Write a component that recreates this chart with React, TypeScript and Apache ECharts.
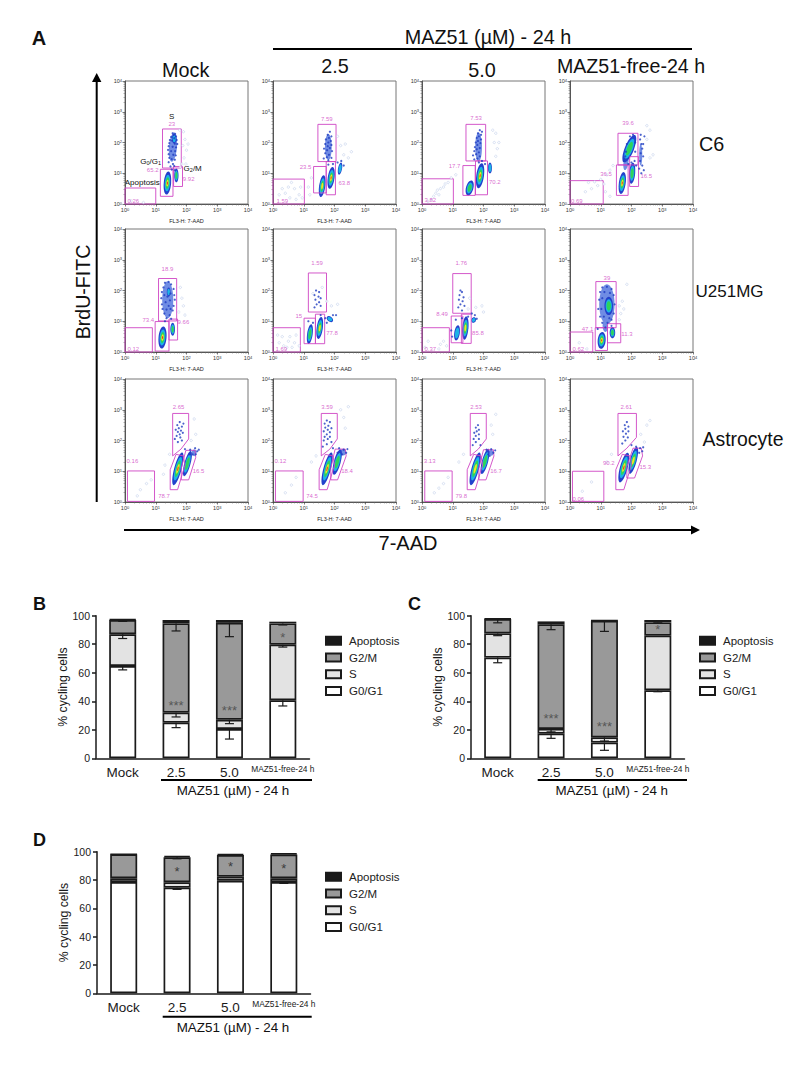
import React, { useEffect, useRef } from "react";
import * as echarts from "echarts";

// ---------- Panel A: all flow-cytometry readings are log10 intensities [x, y] ----------
// gates: 4 numbers = rectangle x0,y0,x1,y1, longer = polygon
const c6MockGates = [[0, 0, 1, 0.52], [1.15, 0.25, 1.56, 1.13], [1.22, 1.17, 1.83, 2.44], [1.58, 0.57, 1.87, 1.22]];
const c6MockLabels = [[0.27, 0.1, "0.26"], [0.9, 1.09, "65.2"], [1.52, 2.6, "23"], [2.07, 0.82, "9.92"]];
const c6MockBlobs = [[1.56, 1.85, 0.26, 0.95, 5, 1], [1.38, 0.68, 0.24, 0.75, 5, 5], [1.67, 0.93, 0.14, 0.45, 0, 3], [1.6, 2.12, 0.15, 0.32, 0, 2]];
const c6MockDots = [[1.55, 2.3], [1.63, 2.28], [1.58, 2.24], [1.5, 2.18], [1.66, 2.2], [1.6, 2.14], [1.46, 2.08], [1.53, 2.06], [1.68, 2.08], [1.44, 1.98], [1.62, 1.96], [1.7, 1.95], [1.42, 1.88], [1.55, 1.86], [1.66, 1.84], [1.4, 1.76], [1.5, 1.72], [1.63, 1.72], [1.42, 1.62], [1.57, 1.6], [1.65, 1.58], [1.44, 1.5], [1.52, 1.46], [1.62, 1.44], [1.42, 1.36], [1.56, 1.3], [1.48, 1.22], [1.6, 1.24], [1.52, 1.12], [1.62, 1.1]];
const c6MockFaint = [[1.9, 2.35], [1.95, 2.1], [1.88, 1.9], [2, 1.75], [1.92, 1.5], [1.85, 1.3], [1.78, 2.4], [1.98, 1.3], [2.05, 1.95], [1.8, 1.2], [0.2, 0.1], [0.6, 0.05]];

const c6LowGates = [[0, 0, 1.02, 0.81], [1.32, 0.36, 1.73, 1.22], [1.46, 1.38, 2.05, 2.59], [1.73, 0.3, 2.03, 1.38]];
const c6LowLabels = [[0.3, 0.09, "1.59"], [1.06, 1.19, "23.5"], [1.75, 2.76, "7.59"], [2.32, 0.68, "63.8"]];
const c6LowBlobs = [[1.6, 0.58, 0.2, 0.72, 8, 4], [1.89, 0.85, 0.22, 0.72, 8, 5], [2.18, 1.15, 0.13, 0.4, 10, 2], [1.8, 1.85, 0.22, 0.85, 0, 1]];
const c6LowDots = [[1.85, 2.35], [1.78, 2.25], [1.9, 2.2], [1.82, 2.15], [1.72, 2.1], [1.88, 2.05], [1.8, 2.0], [1.7, 1.95], [1.9, 1.92], [1.78, 1.88], [1.85, 1.82], [1.66, 1.8], [1.76, 1.75], [1.92, 1.72], [1.7, 1.65], [1.82, 1.6], [1.75, 1.52], [1.9, 1.5], [1.65, 1.48], [1.8, 1.42], [1.95, 1.3], [1.8, 1.28], [2.1, 1.35], [2.22, 1.4], [2.3, 1.25]];
const c6LowFaint = [[0.2, 0.3], [0.4, 0.35], [0.5, 0.55], [0.6, 0.7], [0.7, 0.5], [0.85, 0.3], [0.9, 0.55], [0.3, 0.5], [0.55, 0.2], [0.75, 0.15], [0.95, 0.2], [2.45, 1.5], [2.55, 1.7], [2.3, 1.6], [2.1, 2.2], [2.2, 1.9], [2.35, 1.95], [1.25, 0.85], [1.15, 0.55], [1.2, 0.3]];

const c6HighGates = [[0, 0, 1.02, 0.82], [1.33, 0.28, 1.73, 1.25], [1.43, 1.4, 2.07, 2.59], [1.74, 0.3, 2.13, 1.4]];
const c6HighLabels = [[0.27, 0.12, "3.82"], [1.06, 1.22, "17.7"], [1.76, 2.8, "7.53"], [2.37, 0.71, "70.2"]];
const c6HighBlobs = [[1.55, 0.52, 0.24, 0.5, 15, 3], [1.89, 0.92, 0.25, 0.82, 8, 5], [2.21, 1.17, 0.13, 0.36, 0, 2], [1.84, 1.85, 0.22, 0.95, 0, 1]];
const c6HighDots = [[1.88, 2.4], [1.95, 2.35], [1.82, 2.3], [1.92, 2.25], [1.85, 2.2], [1.78, 2.15], [1.92, 2.1], [1.82, 2.05], [1.75, 2], [1.9, 1.98], [1.8, 1.92], [1.72, 1.85], [1.88, 1.82], [1.78, 1.78], [1.7, 1.72], [1.85, 1.68], [1.76, 1.62], [1.66, 1.58], [1.88, 1.55], [1.8, 1.48], [1.7, 1.45], [1.95, 1.4], [1.85, 1.35], [2.05, 1.3]];
const c6HighFaint = [[0.3, 0.15], [0.38, 0.25], [0.45, 0.35], [0.5, 0.45], [0.6, 0.5], [0.7, 0.55], [0.75, 0.65], [0.55, 0.3], [0.2, 0.08], [0.85, 0.7], [0.95, 0.85], [1.1, 0.95], [2.4, 1.55], [2.45, 1.8], [2.5, 2.0], [2.4, 2.3], [2.3, 2.4], [2.35, 2.0]];

const c6FreeGates = [[0, 0, 1.08, 0.76], [1.51, 0.28, 1.89, 1.27], [1.56, 1.27, 2.21, 2.3], [1.94, 0.57, 2.23, 1.54]];
const c6FreeLabels = [[0.22, 0.11, "0.69"], [1.17, 0.97, "36.5"], [1.89, 2.62, "39.6"], [2.48, 0.92, "16.5"]];
const c6FreeBlobs = [[1.82, 1.35, 0.16, 0.5, 8, 1], [2.3, 1.6, 0.1, 0.7, 0, 1], [1.7, 0.68, 0.22, 0.72, 8, 5], [2.02, 1.0, 0.2, 0.68, 5, 3], [1.93, 1.8, 0.3, 0.95, 22, 3]];
const c6FreeDots = [[1.75, 1.4], [1.8, 1.55], [2.1, 1.4], [2.12, 1.7], [1.82, 1.7], [2.12, 2], [1.95, 2.2], [2.05, 2.25], [1.85, 1.95], [2.15, 1.25], [2.0, 1.35], [1.9, 1.3], [2.28, 2.1], [2.32, 1.95], [2.35, 1.8], [2.3, 1.65], [2.38, 1.55], [2.28, 1.4], [2.35, 1.25], [2.4, 1.1], [2.32, 1.0], [2.3, 2.25], [2.38, 1.95], [2.25, 1.15], [2.42, 2.2]];
const c6FreeFaint = [[0.5, 0.4], [0.7, 0.5], [0.9, 0.6], [0.6, 0.7], [0.8, 0.72], [1, 0.8], [1.2, 0.95], [1.3, 1.1], [1.4, 1.25], [1.15, 0.4], [1.3, 0.25], [1.1, 0.65], [2.6, 1.5], [2.7, 1.6], [2.5, 2.1], [2.6, 2.4], [2.5, 2.55]];

const uMockGates = [[0, 0, 0.89, 0.79], [0.98, 0.03, 1.43, 0.99], [1.09, 1.01, 1.68, 2.39], [1.43, 0.39, 1.71, 1.07]];
const uMockLabels = [[0.27, 0.11, "0.12"], [0.76, 1.03, "73.4"], [1.38, 2.7, "18.9"], [1.9, 0.99, "9.66"]];
const uMockBlobs = [[1.39, 1.7, 0.36, 1.2, 0, 1], [1.22, 0.47, 0.26, 0.72, 5, 5], [1.55, 0.74, 0.15, 0.42, 0, 3], [1.42, 1.95, 0.12, 0.3, 0, 2]];
const uMockDots = [[1.3, 2.25], [1.42, 2.28], [1.5, 2.2], [1.25, 2.1], [1.58, 2.05], [1.2, 1.95], [1.6, 1.85], [1.18, 1.75], [1.62, 1.7], [1.2, 1.55], [1.58, 1.5], [1.22, 1.4], [1.55, 1.35], [1.28, 1.25], [1.45, 1.2], [1.35, 1.1], [1.5, 1.08], [1.3, 1.0], [1.38, 1.8], [1.46, 1.68], [1.32, 1.62], [1.42, 1.5], [1.35, 1.38], [1.48, 1.4], [1.28, 1.85], [1.48, 1.9]];
const uMockFaint = [[1.8, 2.1], [1.85, 1.75], [1.9, 1.5], [1.75, 1.3], [1.95, 1.2]];

const uLowGates = [[0, 0, 0.89, 0.79], [1.01, 0.27, 1.38, 1.1], [1.15, 1.3, 1.74, 2.57], [1.38, 0.27, 1.68, 1.23]];
const uLowLabels = [[0.27, 0.11, "1.69"], [0.84, 1.17, "15"], [1.43, 2.88, "1.59"], [1.92, 0.63, "77.8"]];
const uLowBlobs = [[1.2, 0.58, 0.18, 0.65, 8, 3], [1.52, 0.78, 0.2, 0.72, 8, 4], [1.85, 1.07, 0.24, 0.16, 40, 2]];
const uLowDots = [[1.4, 2.0], [1.5, 1.95], [1.35, 1.85], [1.48, 1.8], [1.55, 1.75], [1.38, 1.7], [1.5, 1.62], [1.42, 1.55], [1.55, 1.5], [1.35, 1.45], [1.7, 1.1], [1.95, 1.2], [2.05, 1.2], [1.75, 0.95], [1.3, 0.95], [1.15, 1.0], [1.55, 1.2]];
const uLowFaint = [[0.2, 0.3], [0.35, 0.2], [0.5, 0.35], [0.3, 0.5], [0.55, 0.5], [0.7, 0.3], [0.75, 0.55], [0.15, 0.55], [0.45, 0.15], [0.62, 0.15], [0.85, 0.2], [1.9, 1.5], [2.1, 1.55], [1.75, 1.65], [1.3, 1.9], [1.6, 2.1]];

const uHighGates = [[0, 0, 0.89, 0.79], [0.95, 0.3, 1.33, 1.17], [1.0, 1.26, 1.6, 2.55], [1.28, 0.28, 1.6, 1.23]];
const uHighLabels = [[0.27, 0.11, "0.37"], [0.65, 1.23, "8.49"], [1.28, 2.88, "1.76"], [1.82, 0.63, "85.8"]];
const uHighBlobs = [[1.14, 0.62, 0.18, 0.5, 8, 2], [1.41, 0.78, 0.2, 0.76, 5, 4], [1.68, 1.04, 0.15, 0.18, 30, 2]];
const uHighDots = [[1.25, 2.0], [1.3, 1.95], [1.22, 1.85], [1.35, 1.78], [1.2, 1.7], [1.32, 1.65], [1.25, 1.55], [1.38, 1.5], [1.18, 1.45], [1.3, 1.35], [1.1, 1.05], [1.3, 1.1], [1.5, 1.15], [1.72, 1.2], [1.78, 1.08], [1.62, 1.25], [0.95, 0.7], [0.98, 0.5]];
const uHighFaint = [[0.1, 0.15], [0.2, 0.35], [0.55, 0.1], [0.6, 0.25], [0.8, 0.2], [0.7, 0.35], [1.75, 1.45], [1.95, 1.5], [2.0, 1.3], [1.55, 1.75], [1.5, 1.4]];

const uFreeGates = [[0, 0, 0.74, 0.65], [0.82, 0.05, 1.22, 0.79], [0.84, 0.79, 1.5, 2.29], [1.22, 0.3, 1.65, 0.92]];
const uFreeLabels = [[0.27, 0.11, "0.62"], [0.57, 0.76, "47.1"], [1.2, 2.42, "39"], [1.85, 0.6, "11.3"]];
const uFreeBlobs = [[1.2, 1.55, 0.5, 1.3, 0, 1], [1.15, 0.85, 0.18, 0.4, 0, 1], [1.03, 0.38, 0.26, 0.55, 5, 5], [1.38, 0.63, 0.18, 0.36, 0, 3], [1.26, 1.5, 0.28, 0.6, 0, 3]];
const uFreeDots = [[1.05, 2.1], [1.2, 2.12], [1.35, 2.05], [0.98, 1.95], [1.42, 1.85], [0.95, 1.7], [1.45, 1.55], [0.92, 1.4], [1.42, 1.25], [0.98, 1.15], [1.35, 1.05], [1.05, 0.95], [1.22, 0.95], [1.15, 0.8], [1.35, 0.85], [0.9, 0.75], [1.05, 1.75], [1.12, 1.95], [1.3, 1.92], [1.02, 1.4], [1.1, 1.15], [1.28, 1.1]];
const uFreeFaint = [[1.6, 1.5], [1.7, 1.65], [1.65, 1.25], [1.75, 1.4], [1.85, 2.2], [0.3, 0.3], [0.55, 0.1], [1.6, 1.05]];

const aMockGates = [[0.08, 0.02, 0.96, 1.01], [1.47, 0.4, 1.71, 0.4, 1.95, 1.2, 1.9, 1.5, 1.66, 1.55, 1.47, 1.05], [1.55, 1.5, 1.55, 2.88, 2.07, 2.88, 2.07, 2.05, 1.82, 1.72], [1.83, 0.72, 2.07, 0.72, 2.3, 1.45, 2.28, 1.68, 1.98, 1.68, 1.83, 1.1]];
const aMockLabels = [[0.24, 1.34, "0.16"], [1.27, 0.2, "78.7"], [1.74, 3.1, "2.65"], [2.39, 1.0, "16.5"]];
const aMockBlobs = [[2.25, 1.6, 0.16, 0.22, 0, 1], [1.72, 1.08, 0.24, 1.1, 15, 5], [2.03, 1.25, 0.2, 0.85, 15, 3]];
const aMockDots = [[1.78, 2.6], [1.7, 2.5], [1.85, 2.45], [1.75, 2.4], [1.65, 2.35], [1.82, 2.32], [1.72, 2.28], [1.88, 2.25], [1.78, 2.2], [1.68, 2.15], [1.8, 2.1], [1.9, 2.55], [1.62, 2.05], [1.72, 1.95], [1.85, 2.0], [1.95, 1.72], [2.12, 1.7], [2.28, 1.75], [2.35, 1.65], [2.3, 1.55], [2.2, 1.55], [2.4, 1.7], [2.1, 1.55]];
const aMockFaint = [[2.25, 2.7], [2.3, 2.2], [2.15, 2.0], [0.5, 0.4], [0.7, 0.6], [0.85, 0.72], [0.4, 0.2], [1.3, 1.2], [1.45, 1.55], [1.25, 0.9]];

const aLowGates = [[0.08, 0.02, 0.98, 1.01], [1.5, 0.4, 1.76, 0.4, 2.0, 1.2, 1.95, 1.5, 1.7, 1.55, 1.5, 1.05], [1.57, 1.5, 1.57, 2.88, 2.09, 2.88, 2.09, 2.05, 1.85, 1.72], [1.88, 0.72, 2.1, 0.72, 2.38, 1.5, 2.35, 1.72, 2.02, 1.72, 1.88, 1.1]];
const aLowLabels = [[0.24, 1.34, "0.12"], [1.27, 0.18, "74.5"], [1.76, 3.1, "3.59"], [2.41, 1.0, "18.4"]];
const aLowBlobs = [[2.28, 1.62, 0.2, 0.22, 0, 1], [1.76, 1.08, 0.24, 1.1, 15, 5], [2.09, 1.3, 0.22, 0.85, 15, 3]];
const aLowDots = [[1.75, 2.65], [1.85, 2.6], [1.68, 2.55], [1.8, 2.48], [1.7, 2.42], [1.9, 2.4], [1.78, 2.35], [1.65, 2.3], [1.85, 2.27], [1.75, 2.2], [1.68, 2.12], [1.85, 2.12], [1.78, 2.05], [1.65, 2.0], [1.9, 1.95], [1.75, 1.88], [1.62, 1.8], [1.95, 1.75], [2.15, 1.75], [2.3, 1.7], [2.38, 1.6], [2.25, 1.55], [2.42, 1.72], [2.1, 1.6]];
const aLowFaint = [[2.2, 3.0], [2.3, 2.75], [2.35, 2.4], [2.45, 3.1], [0.4, 0.3], [0.6, 0.55], [0.75, 0.8], [1.25, 1.3], [1.4, 1.5]];

const aHighGates = [[0.09, 0.02, 0.98, 1.01], [1.47, 0.4, 1.73, 0.4, 1.97, 1.2, 1.92, 1.5, 1.68, 1.55, 1.47, 1.05], [1.57, 1.5, 1.57, 2.88, 2.09, 2.88, 2.09, 2.05, 1.83, 1.72], [1.85, 0.72, 2.08, 0.72, 2.34, 1.5, 2.32, 1.7, 2.0, 1.7, 1.85, 1.1]];
const aHighLabels = [[0.25, 1.34, "3.13"], [1.28, 0.2, "79.8"], [1.76, 3.1, "2.53"], [2.41, 1.0, "16.7"]];
const aHighBlobs = [[2.25, 1.6, 0.16, 0.2, 0, 1], [1.73, 1.08, 0.24, 1.1, 15, 4], [2.05, 1.32, 0.2, 0.85, 15, 3]];
const aHighDots = [[1.82, 2.5], [1.75, 2.42], [1.85, 2.35], [1.78, 2.3], [1.7, 2.25], [1.85, 2.2], [1.75, 2.15], [1.68, 2.05], [1.85, 2.05], [1.75, 1.95], [1.65, 1.85], [1.9, 1.85], [2.1, 1.7], [2.25, 1.72], [2.32, 1.6], [2.2, 1.5], [2.15, 1.55], [2.38, 1.68]];
const aHighFaint = [[2.25, 2.5], [2.3, 2.2], [2.4, 2.85], [0.4, 0.3], [0.55, 0.45], [0.7, 0.6], [0.85, 0.8], [1.2, 1.3], [1.35, 1.55]];

const aFreeGates = [[0.08, 0.02, 1.1, 1.0], [1.49, 0.4, 1.75, 0.4, 2.0, 1.2, 1.95, 1.5, 1.7, 1.55, 1.49, 1.05], [1.56, 1.5, 1.56, 2.88, 2.16, 2.88, 2.16, 2.1, 1.85, 1.75], [1.85, 0.78, 2.1, 0.78, 2.36, 1.5, 2.32, 1.75, 2.05, 1.75, 1.85, 1.15]];
const aFreeLabels = [[0.27, 0.11, "0.06"], [1.26, 1.28, "90.2"], [1.83, 3.08, "2.61"], [2.45, 1.13, "15.3"]];
const aFreeBlobs = [[1.75, 1.12, 0.25, 1.0, 15, 5], [2.06, 1.35, 0.22, 0.9, 15, 4]];
const aFreeDots = [[1.85, 2.6], [1.78, 2.5], [1.9, 2.45], [1.8, 2.38], [1.72, 2.3], [1.9, 2.3], [1.82, 2.22], [1.74, 2.12], [1.88, 2.1], [1.8, 2.0], [1.7, 1.9], [2.0, 1.85], [2.15, 1.8], [2.28, 1.75], [2.35, 1.65], [2.25, 1.6], [2.38, 1.78]];
const aFreeFaint = [[2.5, 2.5], [2.6, 2.65], [2.3, 2.2], [2.42, 1.95], [0.4, 0.35], [0.7, 0.65], [1.2, 1.3], [1.35, 1.55]];

const flowRows = [
  [[c6MockGates, c6MockLabels, c6MockBlobs, c6MockDots, c6MockFaint], [c6LowGates, c6LowLabels, c6LowBlobs, c6LowDots, c6LowFaint], [c6HighGates, c6HighLabels, c6HighBlobs, c6HighDots, c6HighFaint], [c6FreeGates, c6FreeLabels, c6FreeBlobs, c6FreeDots, c6FreeFaint]],
  [[uMockGates, uMockLabels, uMockBlobs, uMockDots, uMockFaint], [uLowGates, uLowLabels, uLowBlobs, uLowDots, uLowFaint], [uHighGates, uHighLabels, uHighBlobs, uHighDots, uHighFaint], [uFreeGates, uFreeLabels, uFreeBlobs, uFreeDots, uFreeFaint]],
  [[aMockGates, aMockLabels, aMockBlobs, aMockDots, aMockFaint], [aLowGates, aLowLabels, aLowBlobs, aLowDots, aLowFaint], [aHighGates, aHighLabels, aHighBlobs, aHighDots, aHighFaint], [aFreeGates, aFreeLabels, aFreeBlobs, aFreeDots, aFreeFaint]],
];

// ---------- Panels B, C, D: stacked segment heights and lower error lengths ----------
const barCategories = ["Mock", "2.5", "5.0", "MAZ51-free-24 h"];
const phaseNames = ["G0/G1", "S", "G2/M", "Apoptosis"];
const legendOrder = ["Apoptosis", "G2/M", "S", "G0/G1"];

const bG0 = [64.7, 25, 20.5, 40.7];
const bS = [22.3, 7, 6.5, 39];
const bG2 = [10, 62.6, 68, 14.9];
const bApo = [0.5, 2.4, 2, 1.2];
const bErrG0 = [2.7, 3.5, 7, 4];
const bErrS = [3, 3, 2.7, 1.7];
const bErrG2 = [1, 5.3, 9.7, 1.1];
const bStars = [[1, 37, "***"], [2, 33.4, "***"], [3, 85, "*"]];

const cG0 = [70.6, 17.3, 11, 47.7];
const cS = [17, 3.3, 3.7, 38.3];
const cG2 = [10.1, 73.4, 81.8, 9.3];
const cApo = [0.3, 2, 0.1, 1.7];
const cErrG0 = [3.6, 3.3, 5.4, 1];
const cErrS = [1.6, 2.1, 2.6, 0];
const cErrG2 = [2.7, 3.8, 7.5, 0.3];
const cStars = [[1, 28, "***"], [2, 22, "***"], [3, 90, "*"]];

const dG0 = [78.6, 74.6, 79.5, 78.6];
const dS = [2.6, 3.8, 2.8, 2.6];
const dG2 = [16.9, 17.6, 15.3, 16.8];
const dApo = [0.2, 1, 0.8, 0.8];
const dErrG0 = [0, 1.2, 0, 1];
const dErrS = [0, 0, 0, 0];
const dErrG2 = [0, 1, 0, 0];
const dStars = [[1, 85.9, "*"], [2, 89.4, "*"], [3, 88.2, "*"]];

const FONT = "Liberation Sans";
const MAGENTA = "#cf45c4";
const INK = "#1a1a1a";
const DENSITY = ["#2341cc", "#1cb4e6", "#2fd35a", "#f2e326", "#e8322a"];
const DENSITY_SCALE = [1, 0.72, 0.5, 0.3, 0.14];
const SPARSE_FILL = "#6f8ce4";
const PHASE_COLORS = ["#ffffff", "#e3e3e3", "#999999", "#1a1a1a"];

const panelLefts = [125, 273, 422, 570];
const rowTops = [81, 229, 379];
const PANEL_SIZE = 123;

const exp10 = (d: number) => Math.pow(10, d);
const toLinear = (list: any[]) => list.map((p) => [exp10(p[0]), exp10(p[1])]);

function buildOption() {
  const grid: any[] = [];
  const xAxis: any[] = [];
  const yAxis: any[] = [];
  const series: any[] = [];
  const legend: any[] = [];

  const logAxis = (gridIndex: number, name?: string) => ({
    type: "log",
    logBase: 10,
    gridIndex,
    min: 1,
    max: 10000,
    splitNumber: 4,
    name,
    nameLocation: "middle",
    nameGap: 14,
    nameTextStyle: { fontSize: 5.5, color: "#222", fontFamily: FONT },
    splitLine: { show: false },
    axisLine: { show: true, onZero: false, lineStyle: { color: "#555", width: 1 } },
    axisTick: { show: true, length: 2.5, lineStyle: { color: "#444", width: 0.7 } },
    minorTick: { show: true, length: 1.5, splitNumber: 9, lineStyle: { color: "#666", width: 0.5 } },
    axisLabel: {
      fontSize: 5.5,
      color: "#333",
      margin: 3,
      fontFamily: FONT,
      formatter: (v: number) => "10{s|" + Math.round(Math.log10(v)) + "}",
      rich: { s: { fontSize: 4, verticalAlign: "top", color: "#333", fontFamily: FONT } },
    },
  });

  flowRows.forEach((row: any[], r: number) => {
    row.forEach((panel: any[], c: number) => {
      const [gates, labels, blobs, dots, faint] = panel;
      const idx = grid.length;
      grid.push({ left: panelLefts[c], top: rowTops[r], width: PANEL_SIZE, height: PANEL_SIZE, show: true, borderColor: "#777", borderWidth: 1, backgroundColor: "#fff" });
      xAxis.push(logAxis(idx, c < 3 ? "FL3-H: 7-AAD" : undefined));
      yAxis.push(logAxis(idx));
      const base = { xAxisIndex: idx, yAxisIndex: idx };
      series.push({ ...base, type: "scatter", name: "faint", symbolSize: 2.4, data: toLinear(faint), silent: true, itemStyle: { color: "#fff", borderColor: "#b4c4e6", borderWidth: 0.6 } });
      series.push({
        ...base,
        type: "custom",
        name: "density",
        data: blobs.map((b: number[]) => [exp10(b[0]), exp10(b[1])]),
        renderItem: (params: any, api: any) => {
          const b = blobs[params.dataIndex];
          const ctr = api.coord([exp10(b[0]), exp10(b[1])]);
          const rx = api.coord([exp10(b[0] + b[2] / 2), exp10(b[1])])[0] - ctr[0];
          const ry = ctr[1] - api.coord([exp10(b[0]), exp10(b[1] + b[3] / 2)])[1];
          const children: any[] = [];
          for (let i = 0; i < b[5]; i++) {
            children.push({
              type: "ellipse",
              x: ctr[0],
              y: ctr[1],
              rotation: (-b[4] * Math.PI) / 180,
              shape: { cx: 0, cy: 0, rx: rx * DENSITY_SCALE[i], ry: ry * DENSITY_SCALE[i] },
              style: { fill: b[5] === 1 ? SPARSE_FILL : DENSITY[i] },
            });
          }
          return { type: "group", children };
        },
      });
      series.push({ ...base, type: "scatter", name: "events", symbolSize: 2.2, data: toLinear(dots), silent: true, itemStyle: { color: "#1f3cc0" } });
      series.push({
        ...base,
        type: "custom",
        name: "gates",
        data: gates.map((g: number[]) => [exp10(g[0]), exp10(g[1])]),
        renderItem: (params: any, api: any) => {
          const g = gates[params.dataIndex];
          const corners = g.length === 4 ? [g[0], g[1], g[2], g[1], g[2], g[3], g[0], g[3]] : g;
          const points: number[][] = [];
          for (let i = 0; i < corners.length; i += 2) points.push(api.coord([exp10(corners[i]), exp10(corners[i + 1])]));
          return { type: "polygon", shape: { points }, style: { fill: "none", stroke: MAGENTA, lineWidth: 0.9 } };
        },
      });
      series.push({
        ...base,
        type: "scatter",
        name: "gate %",
        symbolSize: 0,
        silent: true,
        data: labels.map((l: any[]) => [exp10(l[0]), exp10(l[1]), l[2]]),
        itemStyle: { color: "transparent" },
        label: { show: true, position: "inside", fontSize: 6, color: MAGENTA, fontFamily: FONT, formatter: (p: any) => p.value[2] },
      });
    });
  });

  const barPanels = [
    { left: 96, top: 615.7, height: 142.6, width: 213.5, seg: [bG0, bS, bG2, bApo], err: [bErrG0, bErrS, bErrG2], stars: bStars, legendLeft: 320, legendTop: 629.5, starColor: "#444", starSize: 13 },
    { left: 471, top: 615.7, height: 142.6, width: 213.5, seg: [cG0, cS, cG2, cApo], err: [cErrG0, cErrS, cErrG2], stars: cStars, legendLeft: 694, legendTop: 629.5, starColor: "#444", starSize: 13 },
    { left: 97, top: 851.7, height: 141.6, width: 213.5, seg: [dG0, dS, dG2, dApo], err: [dErrG0, dErrS, dErrG2], stars: dStars, legendLeft: 320, legendTop: 865.5, starColor: "#222", starSize: 13 },
  ];

  barPanels.forEach((p: any, pi: number) => {
    const idx = grid.length;
    grid.push({ left: p.left, top: p.top, width: p.width, height: p.height });
    xAxis.push({
      type: "category",
      gridIndex: idx,
      data: barCategories,
      axisLine: { lineStyle: { color: INK, width: 1.5 } },
      axisTick: { alignWithLabel: true, length: 4, lineStyle: { color: INK, width: 1.5 } },
      axisLabel: {
        interval: 0,
        margin: 7,
        formatter: (v: string) => (v.startsWith("MAZ51") ? "{s|" + v + "}" : "{m|" + v + "}"),
        rich: {
          m: { fontSize: 13.5, color: INK, fontFamily: FONT },
          s: { fontSize: 8.4, color: INK, fontFamily: FONT },
        },
      },
    });
    yAxis.push({
      type: "value",
      gridIndex: idx,
      min: 0,
      max: 100,
      interval: 20,
      name: "% cycling cells",
      nameLocation: "middle",
      nameGap: 25,
      nameTextStyle: { fontSize: 12.2, color: INK, fontFamily: FONT },
      splitLine: { show: false },
      axisLine: { show: true, lineStyle: { color: INK, width: 1.5 } },
      axisTick: { show: true, length: 4, lineStyle: { color: INK, width: 1.5 } },
      axisLabel: { fontSize: 10.5, color: INK, margin: 6, fontFamily: FONT },
    });
    p.seg.forEach((values: number[], i: number) => {
      series.push({
        type: "bar",
        name: phaseNames[i],
        xAxisIndex: idx,
        yAxisIndex: idx,
        stack: "phase" + pi,
        data: values,
        barWidth: 27,
        itemStyle: { color: PHASE_COLORS[i], borderColor: INK, borderWidth: 1.7 },
      });
    });
    const errRows: number[][] = [];
    p.err.forEach((errs: number[], i: number) => {
      errs.forEach((e: number, k: number) => {
        if (e <= 0) return;
        let top = 0;
        for (let s = 0; s <= i; s++) top += p.seg[s][k];
        errRows.push([k, top, top - e]);
      });
    });
    series.push({
      type: "custom",
      name: "SD",
      xAxisIndex: idx,
      yAxisIndex: idx,
      z: 5,
      data: errRows,
      renderItem: (params: any, api: any) => {
        const a = api.coord([api.value(0), api.value(1)]);
        const b = api.coord([api.value(0), api.value(2)]);
        return {
          type: "group",
          children: [
            { type: "line", shape: { x1: a[0], y1: a[1], x2: b[0], y2: b[1] }, style: { stroke: INK, lineWidth: 1.2 } },
            { type: "line", shape: { x1: b[0] - 4.5, y1: b[1], x2: b[0] + 4.5, y2: b[1] }, style: { stroke: INK, lineWidth: 1.2 } },
          ],
        };
      },
    });
    series.push({
      type: "scatter",
      name: "significance",
      xAxisIndex: idx,
      yAxisIndex: idx,
      symbolSize: 0,
      silent: true,
      z: 6,
      data: p.stars,
      itemStyle: { color: "transparent" },
      label: { show: true, position: "inside", fontSize: p.starSize, color: p.starColor, fontFamily: FONT, formatter: (q: any) => q.value[2] },
    });
    legend.push({
      left: p.legendLeft,
      top: p.legendTop,
      orient: "vertical",
      data: legendOrder,
      icon: "rect",
      itemWidth: 15,
      itemHeight: 8,
      itemGap: 4,
      selectedMode: false,
      textStyle: { fontSize: 11.5, lineHeight: 12.7, color: "#222", fontFamily: FONT, padding: [0, 0, 0, 3] },
    });
  });

  const txt = (x: number, y: number, text: string, fontSize = 18, extra: any = {}) => ({
    type: "text",
    x,
    y,
    silent: true,
    style: { text, fontSize, fontFamily: FONT, fill: "#111", textAlign: "center", textVerticalAlign: "middle", ...extra },
  });
  const rule = (x1: number, y1: number, x2: number, y2: number, lineWidth = 2) => ({
    type: "line",
    silent: true,
    shape: { x1, y1, x2, y2 },
    style: { stroke: "#000", lineWidth },
  });
  const head = (points: number[][]) => ({ type: "polygon", silent: true, shape: { points }, style: { fill: "#000" } });
  const subRich = { s: { fontSize: 5.5, verticalAlign: "bottom", fill: "#111", fontFamily: FONT, padding: [3, 0, 0, 0] } };

  const graphic = [
    txt(39, 38, "A", 20, { fontWeight: "bold" }),
    txt(39.5, 604, "B", 18, { fontWeight: "bold" }),
    txt(414.5, 604, "C", 18, { fontWeight: "bold" }),
    txt(39.5, 840, "D", 18, { fontWeight: "bold" }),
    txt(488, 37, "MAZ51 (µM) - 24 h", 19.8),
    rule(273, 49, 692, 49),
    txt(185.7, 69.5, "Mock", 19.8),
    txt(335, 66, "2.5", 19.8),
    txt(482, 69.5, "5.0", 19.8),
    txt(631, 66, "MAZ51-free-24 h", 19.6),
    txt(711.7, 144, "C6", 19.8),
    txt(729.5, 291, "U251MG", 17),
    txt(743, 439, "Astrocyte", 19.4),
    { ...txt(83, 292, "BrdU-FITC", 19.6), rotation: Math.PI / 2 },
    txt(408, 543, "7-AAD", 20),
    rule(96.7, 80, 96.7, 502),
    head([[96.7, 73], [92, 82], [101.4, 82]]),
    rule(124, 530, 694, 530),
    head([[700, 530], [691, 525.5], [691, 534.5]]),
    txt(171.7, 116, "S", 8),
    txt(150.7, 161, "G{s|0}/G{s|1}", 8, { rich: subRich }),
    txt(192.7, 168.7, "G{s|2}/M", 8, { rich: subRich }),
    txt(142.3, 182.7, "Apoptosis", 8),
    rule(161, 780, 312, 780),
    txt(233, 790.5, "MAZ51 (µM) - 24 h", 13.4),
    rule(537.7, 780, 687, 780),
    txt(611.7, 790.5, "MAZ51 (µM) - 24 h", 13.4),
    rule(162.7, 1016.7, 311.7, 1016.7),
    txt(233, 1027, "MAZ51 (µM) - 24 h", 13.4),
  ];

  return {
    animation: false,
    backgroundColor: "#fff",
    textStyle: { fontFamily: FONT },
    grid,
    xAxis,
    yAxis,
    legend,
    series,
    graphic,
  };
}

export default function App() {
  const ref = useRef<HTMLDivElement | null>(null);
  useEffect(() => {
    const chart = echarts.init(ref.current as HTMLDivElement, undefined, { renderer: "svg" });
    chart.setOption(buildOption() as any);
    return () => chart.dispose();
  }, []);
  return <div ref={ref} style={{ position: "absolute", left: 0, top: 0, width: 800, height: 1066 }} />;
}
